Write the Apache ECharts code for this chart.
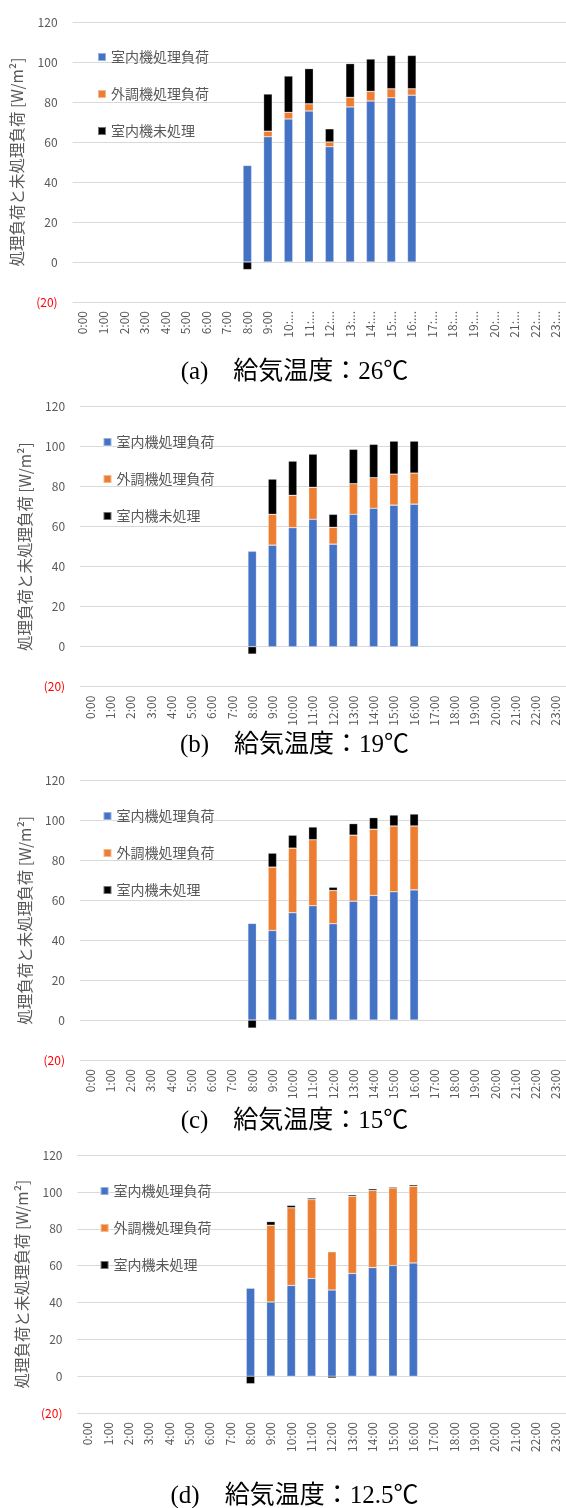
<!DOCTYPE html>
<html><head><meta charset="utf-8">
<script src="https://cdn.jsdelivr.net/npm/echarts@6/dist/echarts.min.js"></script>
<style>html,body{margin:0;padding:0;background:#fff}#c{width:566px;height:1508px}</style>
</head><body><div id="c"></div>
<script>
// ---- data ----
const hours = ['0:00','1:00','2:00','3:00','4:00','5:00','6:00','7:00','8:00','9:00','10:00','11:00',
               '12:00','13:00','14:00','15:00','16:00','17:00','18:00','19:00','20:00','21:00','22:00','23:00'];
const activeHours = ['8:00','9:00','10:00','11:00','12:00','13:00','14:00','15:00','16:00'];
const seriesNames = ['室内機処理負荷','外調機処理負荷','室内機未処理'];
const yAxisName = '処理負荷と未処理負荷 [W/m²]';
const captions = ['(a)\u3000給気温度：26℃','(b)\u3000給気温度：19℃','(c)\u3000給気温度：15℃','(d)\u3000給気温度：12.5℃'];

const a_indoor      = [48.3, 62.6, 71.5, 75.5, 57.6, 77.5, 80.5, 82.1, 83.4];
const a_outdoorUnit = [null, 2.8, 3.3, 3.6, 2.4, 4.8, 4.8, 4.5, 3.2];
const a_unprocessed = [-3.8, 18.6, 18.2, 17.6, 6.6, 16.9, 16.2, 16.7, 16.7];

const b_indoor      = [47.7, 50.8, 59.5, 63.7, 51.3, 66.2, 69.2, 70.8, 71.3];
const b_outdoorUnit = [null, 15.4, 16.2, 16.0, 8.4, 15.3, 15.3, 15.5, 15.5];
const b_unprocessed = [-3.7, 17.6, 17.1, 16.6, 6.5, 17.2, 16.7, 16.5, 16.0];

const c_indoor      = [48.5, 44.9, 53.8, 57.3, 48.3, 59.6, 62.5, 64.3, 65.3];
const c_outdoorUnit = [null, 31.8, 32.4, 33.1, 16.7, 33.1, 33.2, 33.0, 32.0];
const c_unprocessed = [-4.0, 7.0, 6.5, 6.4, 1.6, 5.8, 5.8, 5.5, 6.0];

const d_indoor      = [47.8, 40.3, 49.3, 53.1, 46.8, 55.8, 59.0, 60.1, 61.5];
const d_outdoorUnit = [null, 41.7, 42.2, 42.9, 20.8, 42.0, 41.9, 42.2, 41.7];
const d_unprocessed = [-4.1, 2.0, 1.3, 0.8, -1.0, 0.8, 0.9, 0.6, 0.8];

const yMin = -20, yMax = 120, yInterval = 20;

// ---- layout / style ----
const panels = [
  {vals:[a_indoor,a_outdoorUnit,a_unprocessed], grid:{left:72.6, top:22, width:499, height:280}, legend:{left:92, top:45}, cap:372, truncate:true},
  {vals:[b_indoor,b_outdoorUnit,b_unprocessed], grid:{left:80.1, top:406.7, width:488, height:280}, legend:{left:97.5, top:430}, cap:745},
  {vals:[c_indoor,c_outdoorUnit,c_unprocessed], grid:{left:80, top:780.7, width:487, height:279.3}, legend:{left:97.5, top:804}, cap:1121.7},
  {vals:[d_indoor,d_outdoorUnit,d_unprocessed], grid:{left:77.5, top:1155.3, width:488.6, height:257.7}, legend:{left:94.6, top:1179}, cap:1496.7}
];
const colors = ['#4472C4','#ED7D31','#000000'];
const txt = '#595959';
const ff = '"Noto Sans CJK JP", "Noto Sans", sans-serif';

const option = {
  animation:false,
  textStyle:{fontFamily:ff},
  grid:[], xAxis:[], yAxis:[], legend:[], series:[], graphic:[]
};

panels.forEach((p, pi) => {
  option.grid.push(Object.assign({containLabel:false}, p.grid));
  option.xAxis.push({
    type:'category', gridIndex:pi, data:hours,
    axisLine:{show:false, onZero:false}, axisTick:{show:false},
    axisLabel:{rotate:90, interval:0, color:txt, fontSize:12, margin:9, fontFamily:ff,
      formatter: v => (p.truncate && v.length > 4) ? v.slice(0,3) + '...' : v}
  });
  option.yAxis.push({
    type:'value', gridIndex:pi, min:yMin, max:yMax, interval:yInterval,
    name:yAxisName, nameLocation:'middle', nameGap:45, nameRotate:90,
    nameTextStyle:{color:txt, fontSize:15.5, fontFamily:ff},
    axisLine:{show:false}, axisTick:{show:false},
    splitLine:{lineStyle:{color:'#D9D9D9', width:1}},
    axisLabel:{color:txt, fontSize:12, margin:15, fontFamily:ff,
      formatter: v => v < 0 ? '{neg|(' + (-v) + ')}' : String(v),
      rich:{neg:{color:'#FF0000', fontSize:12, fontFamily:ff}}}
  });
  option.legend.push({
    orient:'vertical', left:p.legend.left, top:p.legend.top, itemGap:23,
    itemWidth:8, itemHeight:8, icon:'rect', data:seriesNames,
    textStyle:{color:txt, fontSize:14, fontFamily:ff}, selectedMode:false
  });
  seriesNames.forEach((n, si) => {
    option.series.push({
      type:'bar', name:n, xAxisIndex:pi, yAxisIndex:pi, stack:'s'+pi,
      barWidth:'42%',
      itemStyle:{color:colors[si], borderColor:'rgba(255,255,255,0.45)', borderWidth:0.6},
      data: activeHours.map((h, i) => [h, p.vals[si][i]])
    });
  });
  option.graphic.push({
    type:'text', x:294.5, y:p.cap,
    style:{text:captions[pi], font:'25px "Liberation Serif", "Noto Sans CJK JP", serif',
      fill:'#000', textAlign:'center', textVerticalAlign:'middle'}
  });
});

const chart = echarts.init(document.getElementById('c'), null, {renderer:'canvas'});
chart.setOption(option);
</script>
</body></html>
